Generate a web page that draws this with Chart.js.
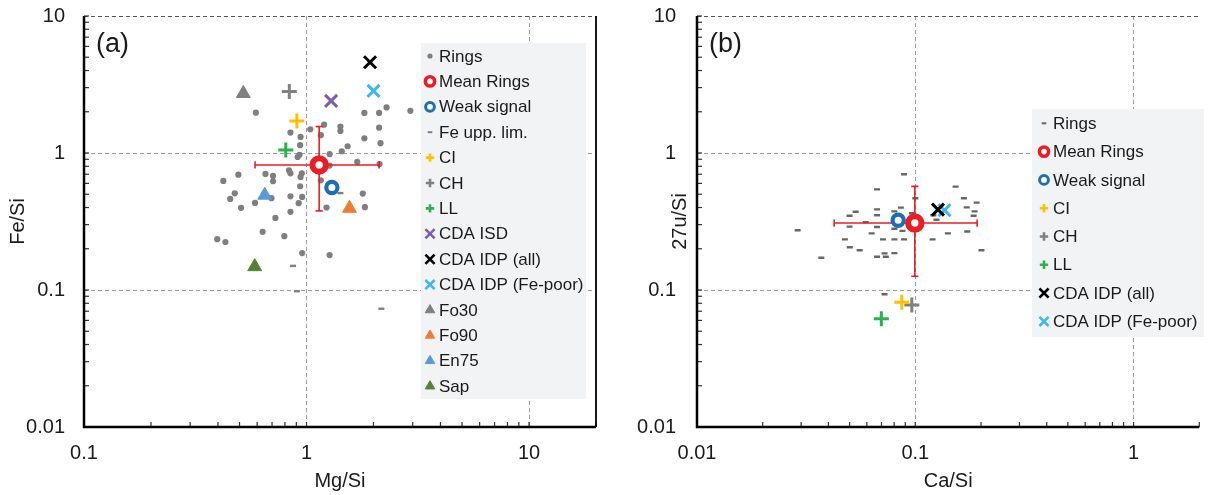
<!DOCTYPE html>
<html lang="en">
<head>
    <meta charset="UTF-8">
    <title>Rings composition: Fe/Si vs Mg/Si and 27u/Si vs Ca/Si</title>
    <style>
        body { margin: 0; background: #fff; overflow: hidden; }
        .panel { position: absolute; top: 0; height: 495px; }
        #panelA { left: 0; width: 610px; }
        #panelB { left: 610px; width: 602px; }
    </style>
</head>
<body>
    <div class="panel" id="panelA"><canvas id="chartA" width="610" height="495"></canvas></div>
    <div class="panel" id="panelB"><canvas id="chartB" width="602" height="495"></canvas></div>

    <script src="https://cdn.jsdelivr.net/npm/chart.js"></script>
    <script>
        // ---- panel (a): Fe/Si vs Mg/Si ----
        const ringsMgSi = [0.592, 1.04, 1.20, 1.42, 1.42, 1.82, 2.12, 2.29, 2.93, 0.847, 0.94, 1.16, 2.12, 1.82,
            0.936, 1.53, 1.44, 2.15, 1.27, 0.912, 0.93, 1.69, 2.13, 1.27, 0.494, 0.654, 0.707, 0.834, 0.847, 0.953,
            0.94, 1.16, 0.423, 0.707, 0.476, 0.454, 0.696, 0.847, 0.936, 0.956, 0.922, 0.587, 0.508, 0.847, 0.725,
            1.23, 1.79, 1.83, 0.635, 0.795, 0.397, 0.432, 0.956, 1.27];
        const ringsFeSi = [1.97, 1.49, 1.61, 1.56, 1.45, 1.96, 1.96, 2.15, 2.03, 1.41, 1.31, 1.35, 1.53, 1.28,
            1.14, 1.12, 1.03, 1.18, 0.98, 0.935, 0.97, 0.86, 0.83, 0.81, 0.695, 0.703, 0.68, 0.748, 0.711, 0.711,
            0.669, 0.632, 0.625, 0.622, 0.508, 0.462, 0.468, 0.483, 0.572, 0.478, 0.43, 0.432, 0.398, 0.372, 0.336,
            0.40, 0.506, 0.402, 0.266, 0.247, 0.235, 0.224, 0.186, 0.18];
        const feLimMgSi = [1.42, 0.87, 0.905, 2.17];
        const feLimFeSi = [0.51, 0.15, 0.098, 0.073];
        const meanA = [1.14, 0.818];
        const meanAErrX = [0.587, 2.12];
        const meanAErrY = [0.378, 1.56];
        const weakA = [1.30, 0.56];
        const refNamesA = ['CI', 'CH', 'LL', 'CDA ISD', 'CDA IDP (all)', 'CDA IDP (Fe-poor)', 'Fo30', 'Fo90', 'En75', 'Sap'];
        const refMgSi = [0.905, 0.837, 0.807, 1.29, 1.93, 2.0, 0.52, 1.56, 0.649, 0.585];
        const refFeSi = [1.71, 2.81, 1.05, 2.40, 4.6, 2.84, 2.72, 0.395, 0.492, 0.148];

        // ---- panel (b): 27u/Si vs Ca/Si ----
        const ringsCaSi = [0.0888, 0.0668, 0.153, 0.100, 0.167, 0.191, 0.172, 0.187, 0.185, 0.0533, 0.050, 0.0668,
            0.0668, 0.0859, 0.0802, 0.0965, 0.0593, 0.050, 0.0668, 0.0802, 0.0631, 0.0873, 0.121, 0.125, 0.0289,
            0.0476, 0.0711, 0.0802, 0.0888, 0.120, 0.141, 0.173, 0.0501, 0.0556, 0.0371, 0.0668, 0.0733, 0.0723,
            0.0802, 0.201, 0.0723];
        const rings27uSi = [0.699, 0.543, 0.568, 0.467, 0.467, 0.434, 0.401, 0.375, 0.348, 0.373, 0.348, 0.388,
            0.351, 0.399, 0.375, 0.363, 0.313, 0.29, 0.288, 0.28, 0.259, 0.27, 0.351, 0.326, 0.273,
            0.234, 0.234, 0.234, 0.234, 0.234, 0.259, 0.267, 0.205, 0.195, 0.172, 0.175, 0.175, 0.185,
            0.186, 0.195, 0.093];
        const meanB = [0.0995, 0.308];
        const meanBErrX = [0.0425, 0.192];
        const meanBErrY = [0.126, 0.571];
        const weakB = [0.0835, 0.323];
        const refNamesB = ['CI', 'CH', 'LL', 'CDA IDP (all)', 'CDA IDP (Fe-poor)'];
        const refCaSi = [0.0867, 0.0964, 0.0699, 0.127, 0.136];
        const ref27uSi = [0.0813, 0.0778, 0.0618, 0.386, 0.382];

        // ---- axes ----
        const xTicksA = [0.1, 1, 10];
        const xTicksB = [0.01, 0.1, 1];
        const yTicks = [0.01, 0.1, 1, 10];
        const xRangeA = [0.1, 20];
        const xRangeB = [0.01, 2];
        const yRange = [0.01, 10];

        // marker look for reference samples
        const refStyle = {
            'CI': ['cross', '#ffc000'],
            'CH': ['cross', '#808080'],
            'LL': ['cross', '#2bb24c'],
            'CDA ISD': ['crossRot', '#7f5ea8'],
            'CDA IDP (all)': ['crossRot', '#000000'],
            'CDA IDP (Fe-poor)': ['crossRot', '#3db8ea'],
            'Fo30': ['triangle', '#7f7f7f'],
            'Fo90': ['triangle', '#ee7d31'],
            'En75': ['triangle', '#5b9bd5'],
            'Sap': ['triangle', '#548235']
        };
        // r / bw = plot size, lr / lbw = legend size
        const SIZE = {
            dot: { r: 3.1, bw: 0, lr: 2.6, lbw: 0 },
            dash: { r: 3, bw: 2.4, lr: 2.3, lbw: 2 },
            mean: { r: 6.7, bw: 6, lr: 4.6, lbw: 3.6 },
            weak: { r: 5.6, bw: 4.2, lr: 4.4, lbw: 3 },
            cross: { r: 7.5, bw: 3, lr: 4.2, lbw: 2.6 },
            crossRot: { r: 8.5, bw: 3, lr: 6.5, lbw: 2.6 },
            triangle: { r: 8, bw: 1, lr: 5.5, lbw: 1 }
        };
        const RED = '#ec1c24';
        const BLUE = '#1c6fb7';
        const FONT = '"Liberation Sans", Arial, sans-serif';
        Chart.defaults.font.family = FONT;
        Chart.defaults.color = '#1a1a1a';

        function pts(xs, ys) {
            return xs.map((x, i) => ({ x: x, y: ys[i] }));
        }

        function markerSet(label, data, style, fill, stroke, order) {
            const s = SIZE[style];
            const shape = { dot: 'circle', mean: 'circle', weak: 'circle', dash: 'line' }[style] || style;
            return {
                label: label, data: data, inLegend: true, order: order,
                pointStyle: shape, pointRadius: s.r, pointBorderWidth: s.bw,
                pointBackgroundColor: fill, pointBorderColor: stroke,
                backgroundColor: fill, borderColor: stroke,
                legendRadius: s.lr, legendBorderWidth: s.lbw
            };
        }

        function errorBars(mean, errX, errY) {
            const common = {
                showLine: true, borderColor: RED, borderWidth: 1.6, pointStyle: 'line',
                pointRadius: 3.6, pointBorderWidth: 1.6, pointBorderColor: RED, order: 3
            };
            return [
                Object.assign({ data: [{ x: errX[0], y: mean[1] }, { x: errX[1], y: mean[1] }], pointRotation: 90 }, common),
                Object.assign({ data: [{ x: mean[0], y: errY[0] }, { x: mean[0], y: errY[1] }], pointRotation: 0 }, common)
            ];
        }

        function logAxis(range, ticks, title, fixedSize, tickPad, titlePad, isX) {
            return {
                type: 'logarithmic',
                min: range[0],
                max: range[1],
                afterBuildTicks: s => { s.ticks = ticks.map(v => ({ value: v })); },
                afterFit: s => {
                    if (isX) {
                        s.height = fixedSize;
                    } else {
                        s.width = fixedSize;
                        s.paddingTop = 0;
                        s.paddingBottom = 0;
                    }
                },
                ticks: {
                    callback: v => String(v),
                    font: { size: 20 },
                    color: '#1a1a1a',
                    padding: tickPad,
                    autoSkip: false,
                    maxRotation: 0
                },
                grid: {
                    drawTicks: false,
                    lineWidth: 1,
                    color: c => (!isX && c.tick && c.tick.value === range[1]) ? '#555' : '#9b9b9b'
                },
                border: { display: false, dash: [4, 3] },
                title: { display: true, text: title, font: { size: 20 }, color: '#1a1a1a', padding: titlePad }
            };
        }

        function minorValues(scale) {
            const out = [];
            for (let e = Math.floor(Math.log10(scale.min)); e <= Math.ceil(Math.log10(scale.max)); e++) {
                for (let m = 1; m <= 9; m++) {
                    const v = m * Math.pow(10, e);
                    if (v > scale.min * 1.0001 && v <= scale.max * 1.0001) out.push(v);
                }
            }
            return out;
        }

        // inward minor ticks, frame, panel tag and inset legend
        const decor = {
            id: 'decor',
            afterDraw(chart, args, o) {
                const { ctx, chartArea: a, scales } = chart;
                ctx.save();
                ctx.setLineDash([]);
                ctx.strokeStyle = '#333';
                ctx.lineWidth = 1.2;
                minorValues(scales.x).forEach(v => {
                    const p = scales.x.getPixelForValue(v);
                    ctx.beginPath(); ctx.moveTo(p, a.bottom); ctx.lineTo(p, a.bottom - 5); ctx.stroke();
                });
                minorValues(scales.y).forEach(v => {
                    const p = scales.y.getPixelForValue(v);
                    ctx.beginPath(); ctx.moveTo(a.left, p); ctx.lineTo(a.left + 5, p); ctx.stroke();
                });

                ctx.strokeStyle = '#000';
                ctx.lineWidth = 2.5;
                ctx.beginPath(); ctx.moveTo(a.left, a.top); ctx.lineTo(a.left, a.bottom); ctx.lineTo(a.right, a.bottom); ctx.stroke();
                if (o.rightBorder) {
                    ctx.lineWidth = 1.8;
                    ctx.beginPath(); ctx.moveTo(a.right, a.top); ctx.lineTo(a.right, a.bottom); ctx.stroke();
                }

                ctx.fillStyle = '#1a1a1a';
                ctx.textBaseline = 'middle';
                ctx.textAlign = 'left';
                ctx.font = '27px ' + FONT;
                ctx.fillText(o.tag, a.left + 12, a.top + 29);

                // legend
                const L = o.legend;
                ctx.fillStyle = '#f2f3f5';
                ctx.fillRect(L.left, L.top, L.width, L.height);
                ctx.font = '17px ' + FONT;
                let y = L.top + L.first;
                chart.data.datasets.forEach(ds => {
                    if (!ds.inLegend) return;
                    ctx.fillStyle = ds.pointBackgroundColor;
                    ctx.strokeStyle = ds.pointBorderColor;
                    ctx.lineWidth = ds.legendBorderWidth || 1;
                    Chart.helpers.drawPoint(ctx, {
                        pointStyle: ds.pointStyle, radius: ds.legendRadius,
                        rotation: 0, borderWidth: ds.legendBorderWidth
                    }, L.markerX, y);
                    ctx.fillStyle = '#1a1a1a';
                    ctx.fillText(ds.label, L.textX, y + 1);
                    y += L.gap;
                });
                ctx.restore();
            }
        };

        function buildChart(id, cfg) {
            const sets = [];
            sets.push(markerSet('Rings', cfg.rings, cfg.ringStyle, cfg.ringColor, cfg.ringColor, 6));
            sets.push(markerSet('Mean Rings', [{ x: cfg.mean[0], y: cfg.mean[1] }], 'mean', '#ffffff', RED, 0));
            sets.push(markerSet('Weak signal', [{ x: cfg.weak[0], y: cfg.weak[1] }], 'weak', '#ffffff', BLUE, 1));
            if (cfg.limits) sets.push(markerSet('Fe upp. lim.', cfg.limits, 'dash', '#7f7f7f', '#7f7f7f', 5));
            cfg.refNames.forEach((name, i) => {
                const st = refStyle[name];
                sets.push(markerSet(name, [{ x: cfg.refX[i], y: cfg.refY[i] }], st[0], st[1], st[1], 2));
            });
            errorBars(cfg.mean, cfg.errX, cfg.errY).forEach(d => sets.push(d));

            return new Chart(document.getElementById(id), {
                type: 'scatter',
                data: { datasets: sets },
                options: {
                    responsive: false,
                    animation: false,
                    events: [],
                    layout: { padding: cfg.padding },
                    plugins: {
                        legend: { display: false },
                        tooltip: { enabled: false },
                        decor: cfg.decor
                    },
                    scales: {
                        x: logAxis(cfg.xRange, cfg.xTicks, cfg.xTitle, 68, 14, { top: 0, bottom: 2 }, true),
                        y: logAxis(yRange, yTicks, cfg.yTitle, cfg.yWidth, cfg.yTickPad, { top: cfg.yTitlePad, bottom: 0 }, false)
                    }
                },
                plugins: [decor]
            });
        }

        buildChart('chartA', {
            rings: pts(ringsMgSi, ringsFeSi), ringStyle: 'dot', ringColor: '#7f7f7f',
            limits: pts(feLimMgSi, feLimFeSi),
            mean: meanA, errX: meanAErrX, errY: meanAErrY, weak: weakA,
            refNames: refNamesA, refX: refMgSi, refY: refFeSi,
            xRange: xRangeA, xTicks: xTicksA, xTitle: 'Mg/Si', yTitle: 'Fe/Si',
            yWidth: 84, yTickPad: 19, yTitlePad: 6,
            padding: { top: 16, right: 14, left: 0, bottom: 0 },
            decor: {
                tag: '(a)', rightBorder: true,
                legend: { left: 421, top: 43, width: 165, height: 356, first: 13, gap: 25.4, markerX: 430, textX: 439 }
            }
        });

        buildChart('chartB', {
            rings: pts(ringsCaSi, rings27uSi), ringStyle: 'dash', ringColor: '#666666',
            limits: null,
            mean: meanB, errX: meanBErrX, errY: meanBErrY, weak: weakB,
            refNames: refNamesB, refX: refCaSi, refY: ref27uSi,
            xRange: xRangeB, xTicks: xTicksB, xTitle: 'Ca/Si', yTitle: '27u/Si',
            yWidth: 87, yTickPad: 21, yTitlePad: 58,
            padding: { top: 16, right: 0, left: 0, bottom: 0 },
            decor: {
                tag: '(b)', rightBorder: false,
                legend: { left: 422, top: 109, width: 172, height: 228, first: 14.3, gap: 28.3, markerX: 434, textX: 443 }
            }
        });
    </script>
</body>
</html>
